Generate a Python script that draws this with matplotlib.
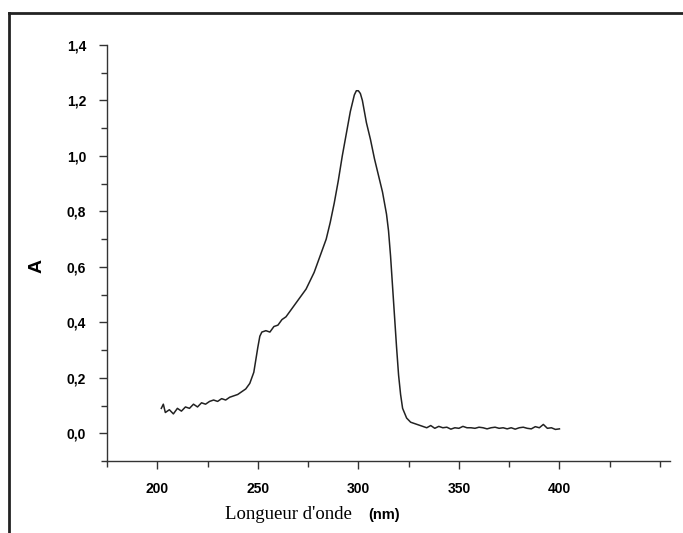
import matplotlib.pyplot as plt
from matplotlib.lines import Line2D
from matplotlib.ticker import MultipleLocator, FuncFormatter

# UV spectrum
wavelength = [202, 203, 204, 206, 208, 210, 212, 214, 216, 218, 220, 222, 224, 226, 228,
              230, 232, 234, 236, 238, 240, 242, 244, 246, 248, 250, 251, 252, 254, 256,
              258, 260, 262, 264, 266, 268, 270, 272, 274, 276, 278, 280, 282, 284, 286,
              288, 290, 292, 294, 296, 298, 299, 300, 301, 302, 303, 304, 306, 308, 310,
              312, 314, 315, 316, 317, 318, 319, 320, 321, 322, 324, 326, 328, 330,
              332, 334, 336, 338, 340, 342, 344, 346, 348, 350, 352, 354, 356, 358, 360,
              362, 364, 366, 368, 370, 372, 374, 376, 378, 380, 382, 384, 386, 388, 390,
              392, 394, 396, 398, 400]
absorbance = [0.09, 0.105, 0.075, 0.085, 0.07, 0.09, 0.08, 0.095, 0.09, 0.105, 0.095, 0.11, 0.105, 0.115, 0.12,
              0.115, 0.125, 0.12, 0.13, 0.135, 0.14, 0.15, 0.16, 0.18, 0.22, 0.31, 0.35, 0.365, 0.37, 0.365,
              0.385, 0.39, 0.41, 0.42, 0.44, 0.46, 0.48, 0.50, 0.52, 0.55, 0.58, 0.62, 0.66, 0.70, 0.76,
              0.83, 0.91, 1.00, 1.08, 1.16, 1.22, 1.235, 1.235, 1.225, 1.20, 1.16, 1.12, 1.06, 0.99, 0.93,
              0.87, 0.79, 0.73, 0.64, 0.53, 0.42, 0.31, 0.21, 0.14, 0.09, 0.055, 0.04, 0.035, 0.03,
              0.025, 0.02, 0.028, 0.018, 0.025, 0.02, 0.022, 0.015, 0.02, 0.018, 0.025, 0.02, 0.02, 0.018, 0.022,
              0.02, 0.016, 0.02, 0.022, 0.018, 0.02, 0.016, 0.02, 0.015, 0.02, 0.022, 0.018, 0.016, 0.024, 0.02,
              0.032, 0.018, 0.02, 0.014, 0.016]

x_ticks = [200, 250, 300, 350, 400]
y_ticks = [0.0, 0.2, 0.4, 0.6, 0.8, 1.0, 1.2, 1.4]

fig = plt.figure(figsize=(6.83, 5.33), dpi=100)
ax = fig.add_axes([0.1567, 0.135, 0.8243, 0.7806])

ax.plot(wavelength, absorbance, color="#222222", lw=1.1)

ax.set_xlim(175, 455)
ax.set_ylim(-0.1, 1.4)
ax.set_xticks(x_ticks)
ax.set_yticks(y_ticks)
ax.xaxis.set_minor_locator(MultipleLocator(25))
ax.yaxis.set_minor_locator(MultipleLocator(0.1))
ax.yaxis.set_major_formatter(FuncFormatter(lambda v, p: f"{v:.1f}".replace(".", ",")))

for s in ["top", "right"]:
    ax.spines[s].set_visible(False)
for s in ["left", "bottom"]:
    ax.spines[s].set_color("#333333")
    ax.spines[s].set_linewidth(1.0)

ax.tick_params(which="major", direction="out", length=6, width=1, color="#333333")
ax.tick_params(which="minor", direction="out", length=4, width=1, color="#333333")
for lab in ax.get_xticklabels() + ax.get_yticklabels():
    lab.set_fontfamily("Liberation Sans")
    lab.set_fontweight("bold")
    lab.set_fontsize(10)
ax.tick_params(axis="x", pad=9)
ax.tick_params(axis="y", pad=9)

ax.set_ylabel("A", fontfamily="Liberation Sans", fontweight="bold", fontsize=14)
ax.yaxis.set_label_coords(-0.11, 0.47)

# x label: serif text plus bold unit
fig.text(0.515, 0.027, "Longueur d'onde", fontfamily="Liberation Serif", fontsize=13.5,
         ha="right", va="baseline")
fig.text(0.539, 0.027, "(nm)", fontfamily="Liberation Sans", fontweight="bold", fontsize=10.5,
         ha="left", va="baseline")

# outer frame lines (left and top)
fig.add_artist(Line2D([0.0125, 0.0125], [0.0, 0.976], transform=fig.transFigure,
                      color="#222222", lw=2))
fig.add_artist(Line2D([0.0125, 1.0], [0.976, 0.976], transform=fig.transFigure,
                      color="#222222", lw=2))

fig.savefig("out.png", dpi=100)
